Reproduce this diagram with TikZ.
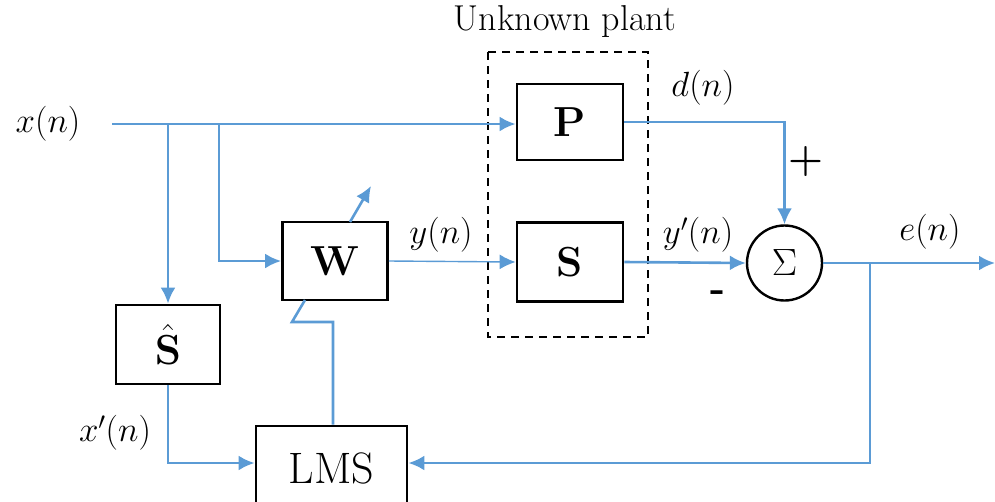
\RequirePackage{fix-cm}
\documentclass[tikz,border=0pt]{standalone}
\usepackage{amsmath}
\usetikzlibrary{arrows.meta,positioning}
\definecolor{sigblue}{RGB}{91,155,213}
\begin{document}
\begin{tikzpicture}[x=1pt,y=-1pt,
  block/.style={draw=black,line width=2.8pt,rectangle,inner sep=0pt,fill=white},
  sig/.style={draw=sigblue,line width=2.6pt},
  tip/.style={-{Latex[length=16pt,width=15pt]}},
  sigarr/.style={sig,tip},
  lbl/.style={font=\fontsize{35}{40}\selectfont,inner sep=0pt},
  bigbold/.style={font=\fontsize{42}{48}\selectfont\bfseries}
]
\clip (0,0) rectangle (995,501);
\useasboundingbox (0,0) rectangle (995,501);

% plant enclosure
\draw[line width=2.2pt,dash pattern=on 8pt off 6pt] (488,52) rectangle (648,337);
\node[font=\fontsize{36}{42}\selectfont] (plantlbl) at (565,22) {Unknown\ plant};

% blocks
\node[block,minimum width=106pt,minimum height=76pt,bigbold] (P) at (570,122) {P};
\node[block,minimum width=106pt,minimum height=79pt,bigbold] (S) at (570,262) {S};
\node[block,minimum width=105pt,minimum height=78pt,bigbold] (W) at (335,261) {W};
\node[block,minimum width=104pt,minimum height=79pt,font=\fontsize{42}{48}\selectfont] (Sh) at (168,344.5) {$\hat{\mathbf{S}}$};
\node[block,minimum width=151pt,minimum height=84pt,font=\fontsize{44}{50}\selectfont] (LMS) at (331.5,468) {LMS};
\node[circle,draw=black,line width=2.4pt,minimum size=75pt,inner sep=0pt,font=\fontsize{38}{44}\selectfont] (sum) at (784.5,263) {$\Sigma$};

% labels
\node[lbl] (xl) at (48,124) {$x(n)$};
\node[lbl] (dl) at (703,88) {$d(n)$};
\node[lbl] (yl) at (441,235) {$y(n)$};
\node[lbl] (ypl) at (698,235) {$y'(n)$};
\node[lbl] (el) at (930,232) {$e(n)$};
\node[lbl] (xpl) at (115,433) {$x'(n)$};
\node[font=\fontsize{40}{46}\selectfont\bfseries] (plus) at (806,162) {+};
\node[font=\fontsize{40}{46}\selectfont\bfseries] (minus) at (718,296) {-};

% reference signal and its branches
\coordinate (xin) at (112,124);
\coordinate (b1) at (168,124);
\coordinate (b2) at (219,124);
\draw[sigarr] (xin) -- (P.west |- xin);
\draw[sigarr] (b1) -- (Sh.north);
\draw[sigarr] (b2) |- (W.west);

% control path
\draw[draw=sigblue,line width=1.4pt,tip] (W.east) -- (S.west);
\draw[sigarr] (S.east) -- (sum.west);
\draw[sigarr] (P.east) -| (sum.north);

% error output and feedback
\coordinate (eout) at (995,263);
\coordinate (eb) at (870,263);
\draw[sigarr] (sum.east) -- (eout);
\draw[sigarr] (eb) |- (LMS.east |- 0,463);
\draw[sigarr] (Sh.south) |- (LMS.west |- 0,463);

% adaptation of W
\coordinate (wa) at (333,322);
\coordinate (wb) at (292,322);
\coordinate (wc) at (305,300);
\draw[sig] (LMS.north -| wa) -- (wa) -- (wb) -- (wc);
\coordinate (wt1) at (350,222);
\coordinate (wt2) at (371,186);
\draw[sigarr] (wt1) -- (wt2);
\end{tikzpicture}
\end{document}
